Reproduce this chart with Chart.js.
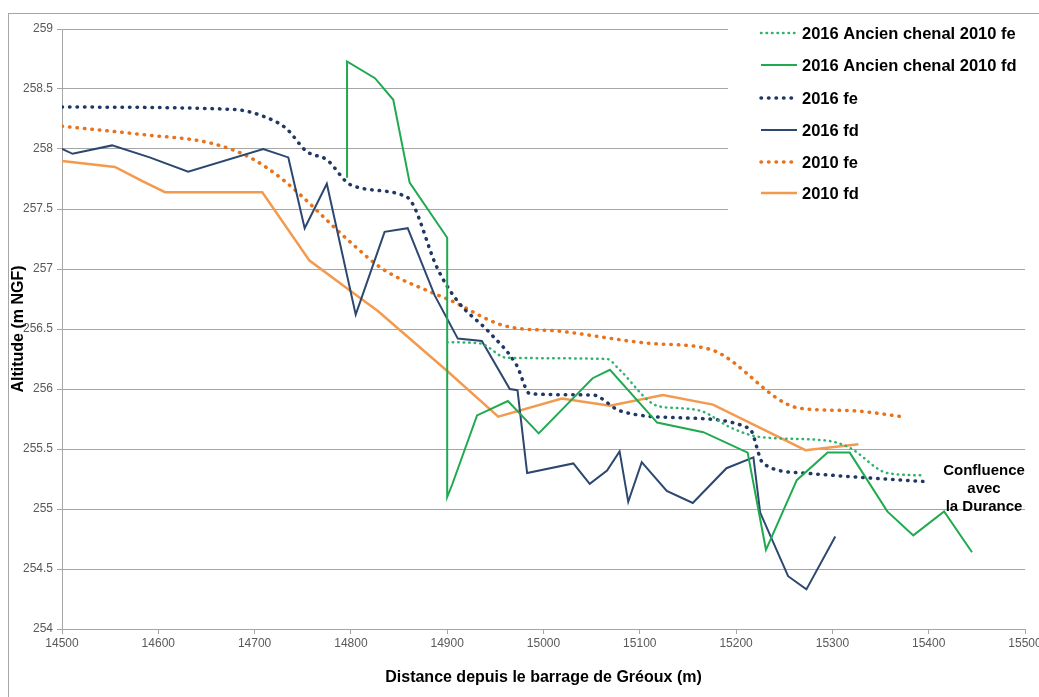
<!DOCTYPE html>
<html>
<head>
<meta charset="utf-8">
<script src="https://cdn.jsdelivr.net/npm/chart.js@4.4.1/dist/chart.umd.min.js"></script>
<style>
  html, body { margin: 0; padding: 0; background: #fff; }
  #wrap { width: 1039px; height: 697px; }
</style>
</head>
<body>
<div id="wrap"><canvas id="profil" width="1039" height="697"></canvas></div>
<script>
// axes
const xTicks = [14500, 14600, 14700, 14800, 14900, 15000, 15100, 15200, 15300, 15400, 15500];
const yTicks = [254, 254.5, 255, 255.5, 256, 256.5, 257, 257.5, 258, 258.5, 259];

// 2016 Ancien chenal 2010 fe
const chenalFeX = [14900, 14934, 14962, 15066, 15079, 15118, 15142, 15166, 15194, 15225, 15294, 15318, 15357, 15394];
const chenalFeY = [256.39, 256.38, 256.26, 256.25, 256.16, 255.86, 255.84, 255.81, 255.68, 255.6, 255.57, 255.51, 255.3, 255.28];

// 2016 Ancien chenal 2010 fd
const chenalFdX = [14796, 14796, 14825, 14844, 14861, 14900, 14900, 14905, 14931, 14963, 14995, 15051, 15069, 15118, 15166, 15212, 15231, 15263, 15295, 15318, 15357, 15384, 15416, 15445];
const chenalFdY = [257.76, 258.73, 258.59, 258.41, 257.72, 257.26, 255.1, 255.2, 255.78, 255.9, 255.63, 256.09, 256.16, 255.72, 255.64, 255.47, 254.66, 255.24, 255.47, 255.47, 254.98, 254.78, 254.98, 254.64];

// 2016 fe
const fe2016X = [14500, 14678, 14713, 14733, 14754, 14775, 14800, 14858, 14865, 14889, 14910, 14944, 14972, 14986, 15051, 15079, 15142, 15214, 15228, 15270, 15318, 15394];
const fe2016Y = [258.35, 258.33, 258.26, 258.17, 257.98, 257.91, 257.7, 257.6, 257.53, 257.02, 256.74, 256.47, 256.2, 255.96, 255.95, 255.82, 255.76, 255.67, 255.38, 255.3, 255.27, 255.23];

// 2016 fd
const fd2016X = [14500, 14511, 14552, 14591, 14631, 14709, 14735, 14752, 14775, 14805, 14835, 14859, 14887, 14911, 14936, 14965, 14973, 14983, 15031, 15048, 15066, 15079, 15088, 15102, 15128, 15155, 15190, 15218, 15225, 15254, 15273, 15303];
const fd2016Y = [258.0, 257.96, 258.03, 257.93, 257.81, 258.0, 257.93, 257.34, 257.71, 256.62, 257.31, 257.34, 256.78, 256.42, 256.4, 256.0, 255.99, 255.3, 255.38, 255.21, 255.32, 255.48, 255.06, 255.39, 255.15, 255.05, 255.34, 255.43, 254.97, 254.44, 254.33, 254.77];

// 2010 fe
const fe2010X = [14500, 14584, 14654, 14695, 14730, 14800, 14833, 14885, 14903, 14958, 15019, 15111, 15173, 15266, 15318, 15373];
const fe2010Y = [258.19, 258.12, 258.05, 257.93, 257.74, 257.22, 257.0, 256.8, 256.74, 256.53, 256.48, 256.38, 256.33, 255.84, 255.82, 255.77];

// 2010 fd
const fd2010X = [14500, 14555, 14584, 14607, 14708, 14757, 14799, 14828, 14900, 14953, 15019, 15069, 15124, 15176, 15272, 15327];
const fd2010Y = [257.9, 257.85, 257.73, 257.64, 257.64, 257.07, 256.82, 256.65, 256.15, 255.77, 255.92, 255.86, 255.95, 255.87, 255.49, 255.54];

const toPoints = (xs, ys) => xs.map((x, i) => ({ x, y: ys[i] }));

const dotted = (color, width, gap) => ({
  borderColor: color,
  backgroundColor: color,
  borderWidth: width,
  borderDash: [0.5, gap],
  borderCapStyle: "round",
  cubicInterpolationMode: "monotone"
});
const solid = (color, width) => ({
  borderColor: color,
  backgroundColor: color,
  borderWidth: width,
  borderCapStyle: "butt"
});

const datasets = [
  { label: "2016 Ancien chenal 2010 fe", data: toPoints(chenalFeX, chenalFeY), ...dotted("#2fb36f", 2.5, 5) },
  { label: "2016 Ancien chenal 2010 fd", data: toPoints(chenalFdX, chenalFdY), ...solid("#1faa50", 2) },
  { label: "2016 fe", data: toPoints(fe2016X, fe2016Y), ...dotted("#1f3864", 3.5, 7) },
  { label: "2016 fd", data: toPoints(fd2016X, fd2016Y), ...solid("#2c4770", 2) },
  { label: "2010 fe", data: toPoints(fe2010X, fe2010Y), ...dotted("#e8731c", 3.5, 7) },
  { label: "2010 fd", data: toPoints(fd2010X, fd2010Y), ...solid("#f39a4f", 2.5) }
];

// legend + text boxes drawn over the grid, like the spreadsheet's own boxes
const boxes = {
  id: "boxes",
  beforeDatasetsDraw(chart) {
    const ctx = chart.ctx;
    ctx.save();
    ctx.fillStyle = "#fff";
    ctx.fillRect(728, 18, 311, 196);
    ctx.fillRect(925, 456, 114, 53);
    ctx.restore();
  },
  afterDraw(chart) {
    const ctx = chart.ctx;
    ctx.save();
    // outer frame
    ctx.strokeStyle = "#a6a6a6";
    ctx.lineWidth = 1;
    ctx.strokeRect(8.5, 13.5, 1100, 800);

    const rows = [33, 65, 98, 130, 162, 193];
    chart.data.datasets.forEach((ds, i) => {
      const y = rows[i];
      ctx.beginPath();
      ctx.strokeStyle = ds.borderColor;
      ctx.lineWidth = ds.borderWidth;
      ctx.lineCap = ds.borderCapStyle || "butt";
      ctx.setLineDash(ds.borderDash || []);
      ctx.moveTo(761, y);
      ctx.lineTo(797, y);
      ctx.stroke();
      ctx.setLineDash([]);
      ctx.fillStyle = "#000";
      ctx.font = "bold 16.5px 'Liberation Sans', Arial, sans-serif";
      ctx.textBaseline = "middle";
      ctx.textAlign = "left";
      ctx.fillText(ds.label, 802, y + 1);
    });

    ctx.font = "bold 15px 'Liberation Sans', Arial, sans-serif";
    ctx.textAlign = "center";
    ctx.textBaseline = "middle";
    ctx.fillStyle = "#000";
    ["Confluence", "avec", "la Durance"].forEach((t, i) => {
      ctx.fillText(t, 984, 471 + i * 18);
    });
    ctx.restore();
  }
};

new Chart(document.getElementById("profil"), {
  type: "line",
  data: { datasets },
  options: {
    responsive: false,
    animation: false,
    devicePixelRatio: 1,
    layout: { padding: { top: 29, right: 14, left: 0, bottom: 0 } },
    elements: { point: { radius: 0, hoverRadius: 0 }, line: { tension: 0 } },
    plugins: { legend: { display: false }, tooltip: { enabled: false } },
    scales: {
      x: {
        type: "linear",
        min: 14500,
        max: 15500,
        afterBuildTicks: s => { s.ticks = xTicks.map(v => ({ value: v })); },
        afterFit: s => { s.height = 68; s.paddingLeft = 0; s.paddingRight = 0; },
        ticks: {
          color: "#595959",
          font: { family: "'Liberation Sans', Arial, sans-serif", size: 12 },
          padding: 2,
          maxRotation: 0,
          autoSkip: false,
          callback: v => String(v)
        },
        grid: { drawOnChartArea: false, drawTicks: true, tickLength: 5, color: "#a6a6a6" },
        border: { color: "#a6a6a6" },
        title: {
          display: true,
          text: "Distance depuis le barrage de Gréoux (m)",
          color: "#000",
          font: { family: "'Liberation Sans', Arial, sans-serif", size: 16, weight: "bold" },
          padding: { top: 0, bottom: 10 }
        }
      },
      y: {
        type: "linear",
        min: 254,
        max: 259,
        afterBuildTicks: s => { s.ticks = yTicks.map(v => ({ value: v })); },
        afterFit: s => { s.width = 62; s.paddingTop = 0; s.paddingBottom = 0; },
        ticks: {
          color: "#595959",
          font: { family: "'Liberation Sans', Arial, sans-serif", size: 12 },
          padding: 4,
          callback: v => String(v)
        },
        grid: { color: "#a6a6a6", lineWidth: 1, drawTicks: true, tickLength: 5 },
        border: { color: "#a6a6a6" },
        title: {
          display: true,
          text: "Altitude (m NGF)",
          color: "#000",
          font: { family: "'Liberation Sans', Arial, sans-serif", size: 16, weight: "bold" },
          padding: { top: 9, bottom: 0 }
        }
      }
    }
  },
  plugins: [boxes]
});
</script>
</body>
</html>
